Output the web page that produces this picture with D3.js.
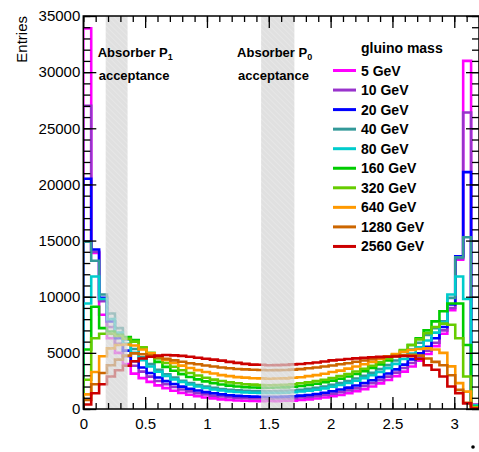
<!DOCTYPE html>
<html>
<head>
<meta charset="utf-8">
<script src="https://cdn.jsdelivr.net/npm/d3@7"></script>
<style>
  body { margin: 0; background: #fff; }
  text { font-family: "Liberation Sans", Arial, Helvetica, sans-serif; }
</style>
</head>
<body>
<div id="chart"></div>
<script>
// histogram binning (50 bins over 0..3.2)
var histRange = [0, 3.2];
var nBins = 50;

// entries per bin, one array per gluino mass
var m5    = [33900,13900,8400,6300,5000,4000,3150,2750,2420,2100, 1860,1620,1440,1270,1150,1020,950,860,810,760, 740,710,700,710,700,730,750,800,860,940, 1020,1130,1250,1400,1580,1770,2000,2280,2580,2930, 3330,3780,4300,4900,5600,6700,8800,13300,31000,400];
var m10   = [27000,14000,9600,7300,5800,4700,3850,3330,2880,2500, 2200,1960,1740,1570,1410,1300,1190,1110,1040,990, 960,950,930,920,930,940,970,1020,1070,1150, 1250,1370,1500,1660,1840,2060,2300,2570,2880,3240, 3650,4100,4620,5200,5900,7000,9000,13400,26400,350];
var m20   = [20500,14200,9900,7800,6300,5200,4250,3700,3200,2800, 2480,2230,1990,1800,1650,1500,1400,1300,1230,1170, 1140,1100,1090,1090,1080,1100,1130,1190,1250,1340, 1450,1580,1740,1900,2090,2310,2560,2840,3160,3530, 3950,4420,4950,5550,6300,7300,9300,13600,21100,300];
var m40   = [14900,13200,10200,8500,7200,6200,5350,4600,4000,3500, 3100,2790,2520,2310,2140,1990,1880,1780,1710,1660, 1630,1600,1590,1580,1600,1610,1650,1710,1790,1890, 2010,2150,2310,2500,2710,2950,3230,3550,3910,4320, 4780,5300,5900,6600,7200,7800,9900,13500,15300,350];
var m80   = [9400,11800,9800,8000,6800,5800,5000,4350,3780,3320, 2950,2640,2400,2180,2000,1870,1740,1650,1570,1510, 1480,1450,1440,1440,1430,1450,1490,1560,1630,1720, 1840,1980,2140,2320,2520,2750,3010,3300,3640,4020, 4450,4930,5500,6100,6800,7700,10200,11800,9800,300];
var m160  = [5300,9100,7200,6900,6600,6400,6150,5400,4750,4200, 3750,3400,3110,2850,2640,2460,2300,2180,2080,2010, 1950,1920,1900,1890,1910,1930,1980,2050,2150,2250, 2380,2530,2700,2900,3120,3370,3650,3970,4330,4730, 5180,5700,6300,7000,7800,8700,9400,9400,5700,200];
var m320  = [2600,6300,6700,6700,6500,6250,6000,5500,5000,4500, 4100,3760,3450,3200,2990,2780,2620,2490,2370,2290, 2210,2170,2130,2120,2140,2160,2210,2290,2370,2480, 2610,2760,2930,3120,3340,3580,3850,4150,4480,4850, 5250,5700,6200,6750,7300,7600,7500,6300,2900,150];
var m640  = [1300,3300,4700,5400,5700,5750,5650,5300,4950,4650, 4360,4100,3860,3650,3460,3300,3160,3020,2930,2840, 2790,2740,2730,2700,2710,2730,2780,2830,2930,3020, 3140,3290,3420,3600,3780,3980,4200,4450,4700,4900, 5100,5250,5350,5400,5300,5000,3800,2300,1550,100];
var m1280 = [800,2200,3200,3900,4400,4750,4950,4880,4750,4600, 4460,4330,4210,4080,3980,3880,3790,3700,3630,3560, 3530,3490,3480,3450,3460,3470,3510,3550,3630,3700, 3790,3880,3990,4080,4210,4320,4430,4540,4650,4730, 4800,4820,4750,4500,4200,3900,3000,1700,550,50];
var m2560 = [400,1400,2200,2900,3450,3850,4250,4500,4650,4750, 4810,4780,4730,4650,4560,4480,4400,4310,4200,4110, 4020,3950,3940,3900,3910,3930,3970,4010,4080,4140, 4230,4330,4390,4450,4510,4550,4610,4640,4660,4680, 4720,4700,4450,3900,3500,2900,2000,1400,500,30];

var massLabels = ["5 GeV","10 GeV","20 GeV","40 GeV","80 GeV","160 GeV","320 GeV","640 GeV","1280 GeV","2560 GeV"];
var massColors = ["#ff00ff","#9933cc","#0000ff","#339999","#00cccc","#00cc00","#66cc00","#ff9900","#cc6600","#cc0000"];
var massCounts = [m5, m10, m20, m40, m80, m160, m320, m640, m1280, m2560];

// shaded acceptance windows
var bandStart = [0.181, 1.438];
var bandEnd   = [0.358, 1.707];
var bandTitle = ["Absorber P", "Absorber P"];
var bandSub   = ["1", "0"];

var yTicks = [0, 5000, 10000, 15000, 20000, 25000, 30000, 35000];
var xTicks = [0, 0.5, 1, 1.5, 2, 2.5, 3];

var W = 479, H = 452;
var L = 83.3, R = 479, T = 16, B = 409;

var svg = d3.select("#chart").append("svg")
    .attr("width", W)
    .attr("height", H);

var x = d3.scaleLinear().domain(histRange).range([L, R]);
var y = d3.scaleLinear().domain([0, 35000]).range([B, T]);

var binW = (histRange[1] - histRange[0]) / nBins;

var defs = svg.append("defs");
defs.append("clipPath").attr("id", "frameClip")
    .append("rect")
    .attr("x", L).attr("y", T)
    .attr("width", R - L).attr("height", B - T);

var pat = defs.append("pattern")
    .attr("id", "hatch")
    .attr("patternUnits", "userSpaceOnUse")
    .attr("width", 4).attr("height", 4)
    .attr("patternTransform", "rotate(-45)");
pat.append("rect").attr("width", 4).attr("height", 4).attr("fill", "#d2d2d2");
pat.append("line").attr("x1", 0).attr("y1", 0).attr("x2", 0).attr("y2", 4)
    .attr("stroke", "#e4e4e4").attr("stroke-width", 1.2);

// histograms
var line = d3.line()
    .x(function(d) { return x(d[0]); })
    .y(function(d) { return y(d[1]); })
    .curve(d3.curveStepAfter);

var plot = svg.append("g").attr("clip-path", "url(#frameClip)");

massCounts.forEach(function(vals, i) {
    var pts = [[histRange[0], 0]];
    vals.forEach(function(v, k) { pts.push([histRange[0] + k * binW, v]); });
    pts.push([histRange[1], 0]);
    plot.append("path")
        .attr("d", line(pts))
        .attr("fill", "none")
        .attr("stroke", massColors[i])
        .attr("stroke-width", 2.6)
        .attr("stroke-linejoin", "miter");
});

// acceptance bands on top
bandStart.forEach(function(s, i) {
    plot.append("rect")
        .attr("x", x(s))
        .attr("y", T)
        .attr("width", x(bandEnd[i]) - x(s))
        .attr("height", B - T)
        .attr("fill", "url(#hatch)")
        .attr("opacity", 0.7);
});

// axes
function styleAxis(g) {
    g.select(".domain").remove();
    g.selectAll("line").attr("stroke", "#000").attr("stroke-width", 1.3);
    g.selectAll("text").attr("fill", "#000").style("font-size", "15px");
}

var xMinor = d3.range(0, 3.21, 0.1);
var yMinor = d3.range(0, 35001, 1000);

svg.append("g").attr("transform", "translate(0," + B + ")")
    .call(d3.axisBottom(x).tickValues(xMinor).tickSize(-6).tickFormat(""))
    .call(styleAxis);
svg.append("g").attr("transform", "translate(0," + B + ")")
    .call(d3.axisBottom(x).tickValues(xTicks).tickSize(-12).tickPadding(9)
          .tickFormat(function(d) { return d; }))
    .call(styleAxis);
svg.append("g").attr("transform", "translate(0," + T + ")")
    .call(d3.axisTop(x).tickValues(xMinor).tickSize(-6).tickFormat(""))
    .call(styleAxis);
svg.append("g").attr("transform", "translate(0," + T + ")")
    .call(d3.axisTop(x).tickValues(xTicks).tickSize(-12).tickFormat(""))
    .call(styleAxis);

svg.append("g").attr("transform", "translate(" + L + ",0)")
    .call(d3.axisLeft(y).tickValues(yMinor).tickSize(-7).tickFormat(""))
    .call(styleAxis);
svg.append("g").attr("transform", "translate(" + L + ",0)")
    .call(d3.axisLeft(y).tickValues(yTicks).tickSize(-13).tickPadding(3)
          .tickFormat(function(d) { return d; }))
    .call(styleAxis);
svg.append("g").attr("transform", "translate(" + R + ",0)")
    .call(d3.axisRight(y).tickValues(yMinor).tickSize(-7).tickFormat(""))
    .call(styleAxis);
svg.append("g").attr("transform", "translate(" + R + ",0)")
    .call(d3.axisRight(y).tickValues(yTicks).tickSize(-13).tickFormat(""))
    .call(styleAxis);

// frame
svg.append("rect")
    .attr("x", L).attr("y", T)
    .attr("width", R - L).attr("height", B - T)
    .attr("fill", "none")
    .attr("stroke", "#000")
    .attr("stroke-width", 1.5);

// y title
svg.append("text")
    .attr("transform", "translate(27," + T + ") rotate(-90)")
    .attr("text-anchor", "end")
    .style("font-size", "15px")
    .text("Entries");

// band labels
bandStart.forEach(function(s, i) {
    var tx = x(s) - 8 + (i === 0 ? 0 : -16);
    var t = svg.append("text")
        .attr("x", tx).attr("y", 57)
        .style("font-size", "13px").style("font-weight", "bold")
        .text(bandTitle[i]);
    t.append("tspan")
        .attr("dy", 3)
        .style("font-size", "9px")
        .text(bandSub[i]);
    svg.append("text")
        .attr("x", tx + 1).attr("y", 80)
        .style("font-size", "13px").style("font-weight", "bold")
        .text("acceptance");
});

// legend
var legX = 333, legY = 70.5, legStep = 19.55;
svg.append("text")
    .attr("x", 361).attr("y", 53)
    .style("font-size", "14px").style("font-weight", "bold")
    .text("gluino mass");

var leg = svg.selectAll(".leg").data(massLabels).enter().append("g")
    .attr("class", "leg")
    .attr("transform", function(d, i) { return "translate(" + legX + "," + (legY + i * legStep) + ")"; });
leg.append("line")
    .attr("x1", 0).attr("x2", 23).attr("y1", 0).attr("y2", 0)
    .attr("stroke", function(d, i) { return massColors[i]; })
    .attr("stroke-width", 3);
leg.append("text")
    .attr("x", 28).attr("y", 5)
    .style("font-size", "14px").style("font-weight", "bold")
    .text(function(d) { return d; });

// stray dot below the frame
svg.append("circle").attr("cx", 473).attr("cy", 447).attr("r", 1.8).attr("fill", "#000");
</script>
</body>
</html>
